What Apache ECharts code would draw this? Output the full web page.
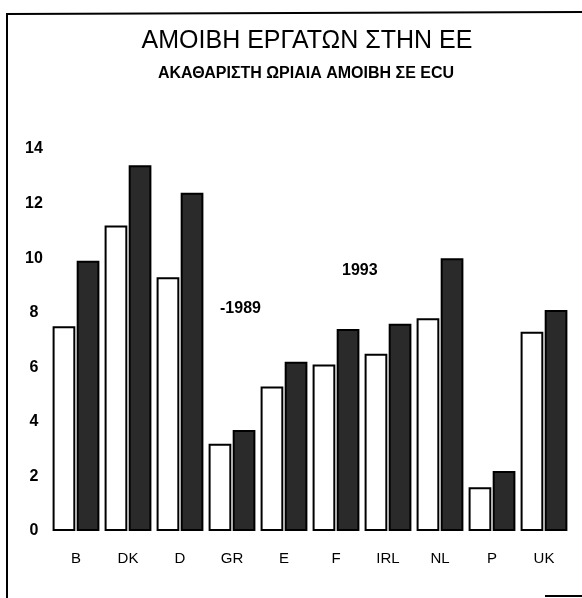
<!DOCTYPE html>
<html>
<head>
<meta charset="utf-8">
<script src="https://cdn.jsdelivr.net/npm/echarts@6/dist/echarts.min.js"></script>
<style>
  html, body { margin: 0; padding: 0; background: #fff; }
  #chart { width: 582px; height: 598px; }
</style>
</head>
<body>
<div id="chart"></div>
<script>
// χώρες
var countries = ['B', 'DK', 'D', 'GR', 'E', 'F', 'IRL', 'NL', 'P', 'UK'];
// ακαθάριστη ωριαία αμοιβή σε ECU
var wages1989 = [7.5, 11.2, 9.3, 3.2, 5.3, 6.1, 6.5, 7.8, 1.6, 7.3];
var wages1993 = [9.9, 13.4, 12.4, 3.7, 6.2, 7.4, 7.6, 10.0, 2.2, 8.1];
var yTicks = [0, 2, 4, 6, 8, 10, 12, 14];

var chart = echarts.init(document.getElementById('chart'));

var font = 'Liberation Sans, Arial, sans-serif';

var option = {
    backgroundColor: '#fff',
    animation: false,
    title: [
        {
            text: 'ΑΜΟΙΒΗ ΕΡΓΑΤΩΝ ΣΤΗΝ ΕΕ',
            left: 302,
            top: 24,
            textAlign: 'center',
            textStyle: { fontFamily: font, fontSize: 25, fontWeight: 'normal', color: '#000' }
        },
        {
            text: 'ΑΚΑΘΑΡΙΣΤΗ ΩΡΙΑΙΑ ΑΜΟΙΒΗ ΣΕ ECU',
            left: 301,
            top: 61,
            textAlign: 'center',
            textStyle: { fontFamily: font, fontSize: 16, fontWeight: 'bold', color: '#000' }
        }
    ],
    grid: { left: 50, right: 12, top: 149, bottom: 67 },
    xAxis: {
        type: 'category',
        data: countries,
        axisLine: { show: false },
        axisTick: { show: false },
        axisLabel: { margin: 20, fontFamily: font, fontSize: 15, color: '#000' }
    },
    yAxis: {
        type: 'value',
        min: yTicks[0],
        max: yTicks[yTicks.length - 1],
        interval: 2,
        splitLine: { show: false },
        axisLine: { show: false },
        axisTick: { show: false },
        axisLabel: { align: 'center', margin: 16, fontFamily: font, fontSize: 16, fontWeight: 'bold', color: '#000' }
    },
    series: [
        {
            name: '1989',
            type: 'bar',
            data: wages1989,
            barGap: '6%',
            barCategoryGap: '10%',
            itemStyle: { color: '#fff', borderColor: '#000', borderWidth: 2 }
        },
        {
            name: '1993',
            type: 'bar',
            data: wages1993,
            itemStyle: { color: '#2a2a2a', borderColor: '#000', borderWidth: 2 }
        }
    ],
    graphic: [
        // πλαίσιο
        { type: 'line', shape: { x1: 7, y1: 14, x2: 582, y2: 12 }, style: { stroke: '#000', lineWidth: 2 } },
        { type: 'line', shape: { x1: 7, y1: 13, x2: 7, y2: 598 }, style: { stroke: '#000', lineWidth: 2 } },
        { type: 'line', shape: { x1: 545, y1: 596, x2: 582, y2: 596 }, style: { stroke: '#000', lineWidth: 2 } },
        // ετικέτες ετών
        { type: 'text', left: 220, top: 301, style: { text: '-1989', font: 'bold 16px ' + font, fill: '#000' } },
        { type: 'text', left: 342, top: 263, style: { text: '1993', font: 'bold 16px ' + font, fill: '#000' } }
    ]
};

chart.setOption(option);
</script>
</body>
</html>
